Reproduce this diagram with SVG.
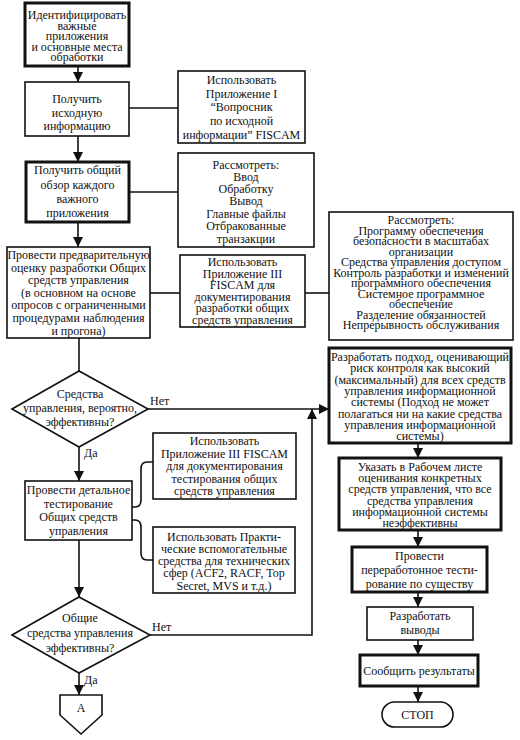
<svg xmlns="http://www.w3.org/2000/svg" width="520" height="740" viewBox="0 0 520 740">
<style>
text{font-family:"Liberation Serif","Times New Roman",serif;font-size:12px;fill:#111;text-anchor:middle}
.lbl{text-anchor:start}
.b{fill:#fff;stroke:#111;stroke-width:1.6}
.k{fill:#fff;stroke:#111;stroke-width:3}
.c{fill:none;stroke:#111;stroke-width:1.6}
</style>
<defs>
<marker id="ah" markerUnits="userSpaceOnUse" markerWidth="10" markerHeight="10" viewBox="0 0 10 10" refX="10" refY="5" orient="auto">
<path d="M0,0 L10,5 L0,10 Z" fill="#111"/>
</marker>
</defs>
<rect width="520" height="740" fill="#fff"/>
<g id="connectors">
<path class="c" d="M78,66 V82" marker-end="url(#ah)"/>
<path class="c" d="M78,136 V162" marker-end="url(#ah)"/>
<path class="c" d="M78,222 V247" marker-end="url(#ah)"/>
<path class="c" d="M79,338 V371"/>
<path class="c" d="M79,447 V481" marker-end="url(#ah)"/>
<path class="c" d="M79,540 V597" marker-end="url(#ah)"/>
<path class="c" d="M79,673 V695" marker-end="url(#ah)"/>
<path class="c" d="M129,108 H178"/>
<path class="c" d="M129,192 H178"/>
<path class="c" d="M150,293 H180"/>
<path class="c" d="M305,293 H329"/>
<path class="c" d="M148,409 H329" marker-end="url(#ah)"/>
<path class="c" d="M150,635 H312 V409" marker-end="url(#ah)"/>
<path class="c" d="M132,507 H135 Q141,507 141,500 V469 Q141,462 147,462 H153"/>
<path class="c" d="M132,520 H135 Q141,520 141,527 V553 Q141,560 147,560 H153"/>
<path class="c" d="M418,443 V458" marker-end="url(#ah)"/>
<path class="c" d="M418,530 V547" marker-end="url(#ah)"/>
<path class="c" d="M418,592 V607" marker-end="url(#ah)"/>
<path class="c" d="M418,640 V655" marker-end="url(#ah)"/>
<path class="c" d="M418,686 V702" marker-end="url(#ah)"/>
<text class="lbl" x="150" y="405">Нет</text>
<text class="lbl" x="84" y="457">Да</text>
<text class="lbl" x="152" y="631">Нет</text>
<text class="lbl" x="84" y="684">Да</text>
</g>
<g id="n1">
<rect class="k" x="25" y="3" width="104" height="63"/>
<text x="77" y="19">Идентифицировать</text>
<text x="77" y="29.5">важные</text>
<text x="77" y="40">приложения</text>
<text x="77" y="50.5">и основные места</text>
<text x="77" y="61">обработки</text>
</g>
<g id="n2">
<rect class="b" x="25" y="82" width="104" height="54"/>
<text x="77" y="103">Получить</text>
<text x="77" y="116.5">исходную</text>
<text x="77" y="130">информацию</text>
</g>
<g id="n3">
<rect class="b" x="178" y="71" width="127" height="72"/>
<text x="241.5" y="84">Использовать</text>
<text x="241.5" y="97.5">Приложение I</text>
<text x="241.5" y="111">“Вопросник</text>
<text x="241.5" y="125">по исходной</text>
<text x="241.5" y="139">информации” FISCAM</text>
</g>
<g id="n4">
<rect class="k" x="26" y="162" width="103" height="60"/>
<text x="77.5" y="174">Получить общий</text>
<text x="77.5" y="188.5">обзор каждого</text>
<text x="77.5" y="203">важного</text>
<text x="77.5" y="217">приложения</text>
</g>
<g id="n5">
<rect class="b" x="178" y="153" width="136" height="94"/>
<text x="246" y="169">Рассмотреть:</text>
<text x="246" y="180.5">Ввод</text>
<text x="246" y="192.5">Обработку</text>
<text x="246" y="205">Вывод</text>
<text x="246" y="217.5">Главные файлы</text>
<text x="246" y="230">Отбракованные</text>
<text x="246" y="242.5">транзакции</text>
</g>
<g id="n6">
<rect class="b" x="7" y="247" width="143" height="91"/>
<text x="78.5" y="259">Провести предварительную</text>
<text x="78.5" y="271.6">оценку разработки Общих</text>
<text x="78.5" y="284.2">средств управления</text>
<text x="78.5" y="296.8">(в основном на основе</text>
<text x="78.5" y="309.4">опросов с ограниченными</text>
<text x="78.5" y="322">процедурами наблюдения</text>
<text x="78.5" y="334.6">и прогона)</text>
</g>
<g id="n7">
<rect class="b" x="180" y="255" width="125" height="72"/>
<text x="242.5" y="266">Использовать</text>
<text x="242.5" y="277.5">Приложение III</text>
<text x="242.5" y="289">FISCAM для</text>
<text x="242.5" y="300.5">документирования</text>
<text x="242.5" y="312">разработки общих</text>
<text x="242.5" y="323.5">средств управления</text>
</g>
<g id="n8">
<rect class="b" x="329" y="212" width="184" height="128"/>
<text x="421" y="224">Рассмотреть:</text>
<text x="421" y="234.5">Программу обеспечения</text>
<text x="421" y="245">безопасности в масштабах</text>
<text x="421" y="255.5">организации</text>
<text x="421" y="266">Средства управления доступом</text>
<text x="421" y="276.5">Контроль разработки и изменений</text>
<text x="421" y="287">программного обеспечения</text>
<text x="421" y="297.5">Системное программное</text>
<text x="421" y="308">обеспечение</text>
<text x="421" y="318.5">Разделение обязанностей</text>
<text x="421" y="329">Непрерывность обслуживания</text>
</g>
<g id="n9">
<polygon class="b" points="12,409 79,371 148,409 79,447"/>
<text x="80" y="398">Средства</text>
<text x="80" y="412">управления, вероятно,</text>
<text x="80" y="426">эффективны?</text>
</g>
<g id="n10">
<rect class="k" x="329" y="348" width="182" height="95"/>
<text x="420" y="361">Разработать подход, оценивающий</text>
<text x="420" y="372.3">риск контроля как высокий</text>
<text x="420" y="383.6">(максимальный) для всех средств</text>
<text x="420" y="394.9">управления информационной</text>
<text x="420" y="406.2">системы (Подход не может</text>
<text x="420" y="417.5">полагаться ни на какие средства</text>
<text x="420" y="428.8">управления информационной</text>
<text x="420" y="440.1">системы)</text>
</g>
<g id="n11">
<rect class="b" x="153" y="433" width="143" height="66"/>
<text x="224.5" y="445">Использовать</text>
<text x="224.5" y="457.5">Приложение III FISCAM</text>
<text x="224.5" y="470">для документирования</text>
<text x="224.5" y="482.5">тестирования общих</text>
<text x="224.5" y="495">средств управления</text>
</g>
<g id="n12">
<rect class="k" x="339" y="458" width="162" height="72"/>
<text x="420" y="471">Указать в Рабочем листе</text>
<text x="420" y="482.2">оценивания конкретных</text>
<text x="420" y="493.4">средств управления, что все</text>
<text x="420" y="504.6">средства управления</text>
<text x="420" y="515.8">информационной системы</text>
<text x="420" y="527">неэффективны</text>
</g>
<g id="n13">
<rect class="b" x="25" y="481" width="107" height="59"/>
<text x="78.5" y="494">Провести детальное</text>
<text x="78.5" y="507.5">тестирование</text>
<text x="78.5" y="521">Общих средств</text>
<text x="78.5" y="535">управления</text>
</g>
<g id="n14">
<rect class="b" x="153" y="527" width="142" height="66"/>
<text x="224" y="540.5">Использовать Практи-</text>
<text x="224" y="552.8">ческие вспомогательные</text>
<text x="224" y="565">средства для технических</text>
<text x="224" y="577.3">сфер (ACF2, RACF, Top</text>
<text x="224" y="589.5">Secret, MVS и т.д.)</text>
</g>
<g id="n15">
<rect class="k" x="352" y="547" width="135" height="45"/>
<text x="419.5" y="560">Провести</text>
<text x="419.5" y="574">переработонное тести-</text>
<text x="419.5" y="588">рование по существу</text>
</g>
<g id="n16">
<polygon class="b" points="12,635 79,597 150,635 79,673"/>
<text x="80" y="622">Общие</text>
<text x="80" y="637">средства управления</text>
<text x="80" y="652">эффективны?</text>
</g>
<g id="n17">
<rect class="b" x="367" y="607" width="106" height="33"/>
<text x="420" y="620">Разработать</text>
<text x="420" y="634">выводы</text>
</g>
<g id="n18">
<rect class="k" x="360" y="655" width="118" height="31"/>
<text x="419" y="675">Сообщить результаты</text>
</g>
<g id="n19">
<rect class="b" x="382" y="702" width="71" height="25" rx="12.5"/>
<text x="417.5" y="718.5">СТОП</text>
</g>
<g id="n20">
<polygon class="b" points="60,695 102,695 102,715 81,734 60,715"/>
<text x="81" y="712">А</text>
</g>
</svg>
